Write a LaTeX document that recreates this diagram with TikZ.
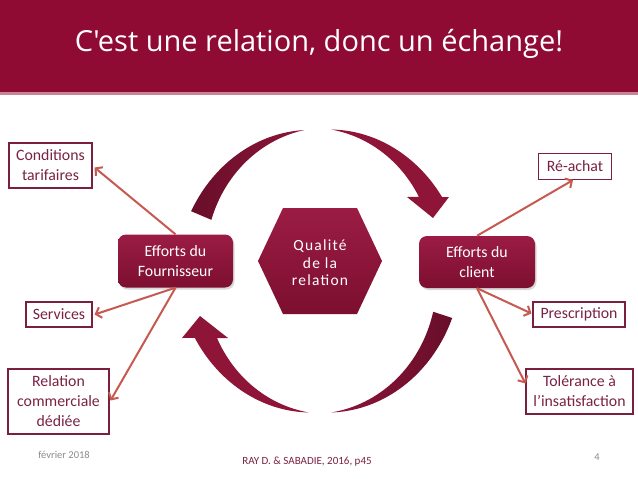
\documentclass[tikz,border=0pt]{standalone}
\usepackage{fontspec}
\setmainfont{Carlito}
\newfontfamily\titlefont{Open Sans}
\newfontfamily\hexfont[LetterSpace=8]{Carlito}
\usetikzlibrary{arrows.meta,shadows}
\definecolor{band}{HTML}{8F0B34}
\definecolor{bandline}{HTML}{C98497}
\definecolor{boxline}{HTML}{7A1F3D}
\definecolor{boxtext}{HTML}{7A2244}
\definecolor{effTop}{HTML}{9B1C44}
\definecolor{effBot}{HTML}{7C0F30}
\definecolor{connc}{HTML}{C65A50}
\definecolor{arcA}{HTML}{8E1538}
\definecolor{arcB}{HTML}{680E2A}
\definecolor{footgray}{HTML}{8C8C8C}
\tikzset{
  outbox/.style={draw=boxline, line width=1.1pt, text=boxtext, align=center,
    font=\fontsize{15.8}{20}\selectfont, inner sep=0pt},
  effbox/.style={rounded corners=8pt, top color=effTop, bottom color=effBot,
    text=white, align=center, font=\fontsize{15.8}{20}\selectfont, inner sep=0pt,
    drop shadow={opacity=0.3, shadow xshift=1.5pt, shadow yshift=-2pt}},
  conn/.style={draw=connc, line width=2pt, -{Straight Barb[length=5pt,width=11pt]}},
}
\begin{document}
\begin{tikzpicture}[x=1pt,y=-1pt]
\useasboundingbox (0,0) rectangle (638,479);
\fill[white] (0,0) rectangle (638,479);
% title band
\fill[band] (0,0) rectangle (638,92);
\fill[bandline] (0,92) rectangle (638,94.5);
\node[text=white, font=\titlefont\fontsize{29}{32}\selectfont] (title) at (319,44) {C'est une relation, donc un échange!};

% circular arrows
% top-left piece (thick end at left, thin at top)
\shade[left color=arcB, right color=arcA]
  plot[domain=157:97, samples=40, variable=\t]
    ({320+(129+11*(\t-97)/60)*cos(\t)},{271-(142+11*(\t-97)/60)*sin(\t)})
  -- plot[domain=97:157, samples=40, variable=\t]
    ({320+(129-11*(\t-97)/60)*cos(\t)},{271-(142-11*(\t-97)/60)*sin(\t)})
  -- cycle;
% top-right piece with arrowhead
\fill[arcA]
  plot[domain=85:29, samples=40, variable=\t]
    ({320+(129+10*(85-\t)/53)*cos(\t)},{271-(142+10*(85-\t)/53)*sin(\t)})
  -- (449,197) -- (433,218) -- (407,197)
  -- plot[domain=34:85, samples=40, variable=\t]
    ({320+(129-10*(85-\t)/53)*cos(\t)},{271-(142-10*(85-\t)/53)*sin(\t)})
  -- cycle;
% bottom-right piece (thick at right, thin at bottom)
\shade[left color=arcA, right color=arcB]
  plot[domain=342:275, samples=40, variable=\t]
    ({320+(129+10*(\t-275)/67)*cos(\t)},{271-(142+10*(\t-275)/67)*sin(\t)})
  -- plot[domain=275:342, samples=40, variable=\t]
    ({320+(129-10*(\t-275)/67)*cos(\t)},{271-(142-10*(\t-275)/67)*sin(\t)})
  -- cycle;
% bottom-left piece with arrowhead
\fill[arcA]
  plot[domain=265:206, samples=40, variable=\t]
    ({320+(129+10*(265-\t)/57)*cos(\t)},{271-(142+10*(265-\t)/57)*sin(\t)})
  -- (182,338) -- (200,316) -- (228,338)
  -- plot[domain=210.5:265, samples=40, variable=\t]
    ({320+(129-10*(265-\t)/57)*cos(\t)},{271-(142-10*(265-\t)/57)*sin(\t)})
  -- cycle;

% hexagon
\shade[top color=effTop, bottom color=effBot]
  (283,208) -- (357,208) -- (382,261) -- (357,314) -- (283,314) -- (258,261) -- cycle;
\node[text=white, align=center, font=\hexfont\fontsize{15.5}{17.5}\selectfont] (hex) at (320,263) {Qualité\\de la\\relation};

% effort boxes
\node[effbox, minimum width=115pt, minimum height=53pt] (four) at (175.5,261) {Efforts du\\Fournisseur};
\node[effbox, minimum width=116pt, minimum height=52pt] (cli) at (477,262) {Efforts du\\client};

% outer boxes
\node[outbox, minimum width=83pt, minimum height=45pt] (cond) at (50.5,165.5) {Conditions\\tarifaires};
\node[outbox, minimum width=66pt, minimum height=25pt] (serv) at (59,314.5) {Services};
\node[outbox, minimum width=101pt, minimum height=65pt] (rel) at (58.5,401.5) {Relation\\commerciale\\dédiée};
\node[outbox, minimum width=73pt, minimum height=26pt] (reach) at (575,166.5) {Ré-achat};
\node[outbox, minimum width=92pt, minimum height=25pt] (presc) at (579,314.5) {Prescription};
\node[outbox, minimum width=107pt, minimum height=45pt] (tol) at (579.5,391.5) {Tolérance à\\l’insatisfaction};

% connectors
\draw[conn] (four.north) -- ([xshift=2pt,yshift=-2pt]cond.east);
\draw[conn] (four.south) -- ([xshift=2pt]serv.east);
\draw[conn] (four.south) -- ([xshift=1pt,yshift=1pt]rel.east);
\draw[conn] (cli.north) -- ([xshift=-2pt]reach.south);
\draw[conn] (cli.south) -- ([xshift=-1pt,yshift=1pt]presc.west);
\draw[conn] (cli.south) -- ([yshift=8pt]tol.west);

% footer
\node[text=footgray, font=\fontsize{10.5}{12}\selectfont] (date) at (64,455) {février 2018};
\node[text=boxtext, font=\fontsize{11}{13}\selectfont] (src) at (307,462) {RAY D. \& SABADIE, 2016, p45};
\node[text=footgray, font=\fontsize{10.5}{12}\selectfont] (page) at (597,457) {4};
\end{tikzpicture}
\end{document}
